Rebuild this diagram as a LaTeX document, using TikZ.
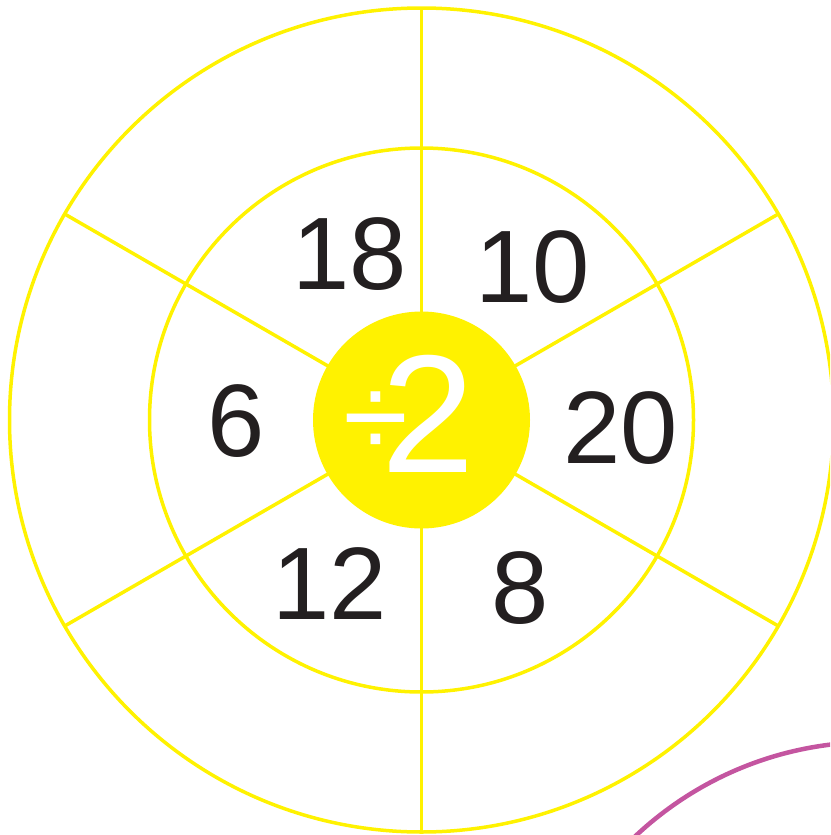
\documentclass[tikz,border=0pt]{standalone}
\usepackage{fontspec}
\setmainfont{Liberation Sans}
\definecolor{wheelyellow}{HTML}{FFF200}
\definecolor{numink}{HTML}{231F20}
\definecolor{arcmagenta}{RGB}{196,85,160}
\begin{document}
\begin{tikzpicture}[x=1pt,y=-1pt,
  ring/.style={draw=wheelyellow,line width=3.5pt},
  spoke/.style={draw=wheelyellow,line width=3.5pt},
  num/.style={inner sep=0pt,text=numink,font=\fontsize{103}{115}\selectfont}]
\useasboundingbox (0,0) rectangle (830,835);
\clip (0,0) rectangle (830,835);
\coordinate (c) at (421.5,420);
% magenta arc of neighbouring figure
\draw[arcmagenta,line width=4.5pt] (873,1089) circle[radius=347pt];
% rings
\draw[ring] (c) circle[radius=412pt];
\draw[ring] (c) circle[radius=272pt];
% spokes
\foreach \a in {30,90,150,210,270,330}
  \draw[spoke] (c) -- ++(\a:412pt);
% hub
\node[circle,fill=wheelyellow,minimum size=217pt,inner sep=0pt] (hub) at (c) {};
\node[inner sep=0pt,text=white,anchor=base west] (op) at (343.3,472)
  {\raisebox{14.5pt}{\fontsize{118}{120}\selectfont ÷}\kern-27pt\fontsize{168}{180}\selectfont 2};
% numbers
\node[num] (n18) at (349.5,254) {18};
\node[num] (n10) at (533,267.5) {10};
\node[num] (n6) at (236,421) {6};
\node[num] (n20) at (621,428) {20};
\node[num] (n12) at (330,584) {12};
\node[num] (n8) at (520,588.5) {8};
\end{tikzpicture}
\end{document}
